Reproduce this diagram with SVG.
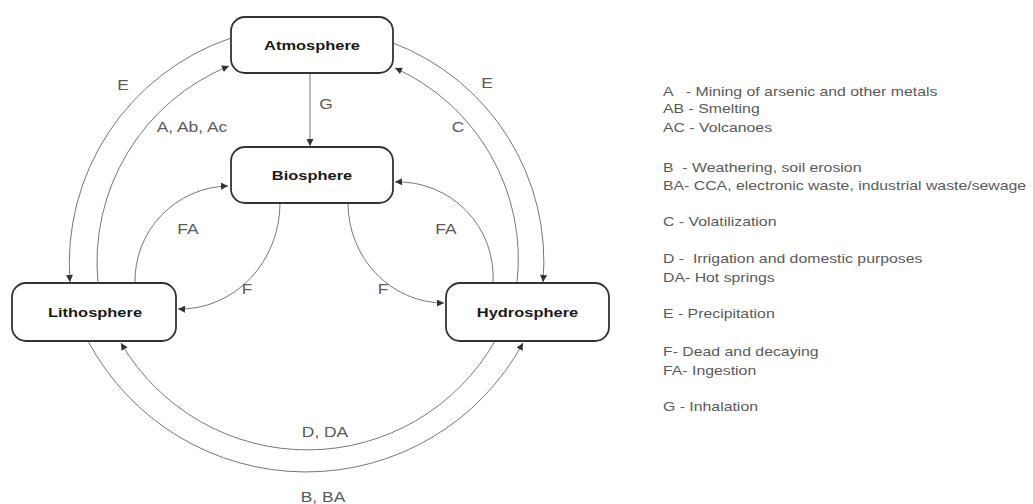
<svg xmlns="http://www.w3.org/2000/svg" width="1033" height="504" viewBox="0 0 1033 504">
<style>
.box{fill:#fff;stroke:#333;stroke-width:1.8}
.nt{font-family:"Liberation Sans",Arial,sans-serif;font-weight:bold;font-size:13.7px;fill:#1a1a1a;text-anchor:middle}
.lb{font-family:"Liberation Sans",Arial,sans-serif;font-size:14.5px;fill:#5a5a5a;text-anchor:middle}
.lg{font-family:"Liberation Sans",Arial,sans-serif;font-size:13.2px;fill:#5a5a5a;white-space:pre}
.cn{fill:none;stroke:#666;stroke-width:0.9}
</style>
<defs>
<marker id="ar" viewBox="0 0 10 10" refX="10" refY="5" markerWidth="8" markerHeight="7" markerUnits="userSpaceOnUse" orient="auto">
<path d="M0,0 L10,5 L0,10 z" fill="#333"/>
</marker>
</defs>
<g id="connectors">
<path class="cn" d="M310,73 L310,146" marker-end="url(#ar)"/>
<path class="cn" d="M231,38 A238,238 0 0 0 70,282" marker-end="url(#ar)"/>
<path class="cn" d="M98,283 A212,212 0 0 1 229,66" marker-end="url(#ar)"/>
<path class="cn" d="M135,283 A95,95 0 0 1 228,186" marker-end="url(#ar)"/>
<path class="cn" d="M280,203 A100,106 0 0 1 178,309" marker-end="url(#ar)"/>
<path class="cn" d="M348,203 A96,100 0 0 0 444,303" marker-end="url(#ar)"/>
<path class="cn" d="M493,283 A95,95 0 0 0 395,182" marker-end="url(#ar)"/>
<path class="cn" d="M517,283 A210,210 0 0 0 395,68" marker-end="url(#ar)"/>
<path class="cn" d="M393,43 A234,234 0 0 1 543,282" marker-end="url(#ar)"/>
<path class="cn" d="M495,341 A216,216 0 0 1 121,343" marker-end="url(#ar)"/>
<path class="cn" d="M88,341 A247,247 0 0 0 523,343" marker-end="url(#ar)"/>
</g>
<g id="labels">
<text class="lb" transform="translate(123,90) scale(1.2,1)">E</text>
<text class="lb" transform="translate(192,132) scale(1.2,1)">A, Ab, Ac</text>
<text class="lb" transform="translate(326,109) scale(1.2,1)">G</text>
<text class="lb" transform="translate(487,88) scale(1.2,1)">E</text>
<text class="lb" transform="translate(458,132) scale(1.2,1)">C</text>
<text class="lb" transform="translate(188,234) scale(1.2,1)">FA</text>
<text class="lb" transform="translate(446,234) scale(1.2,1)">FA</text>
<text class="lb" transform="translate(247,294) scale(1.2,1)">F</text>
<text class="lb" transform="translate(383,294) scale(1.2,1)">F</text>
<text class="lb" transform="translate(325,437) scale(1.2,1)">D, DA</text>
<text class="lb" transform="translate(323,502) scale(1.2,1)">B, BA</text>
</g>
<g id="atmosphere">
<rect class="box" x="231" y="17" width="162" height="56" rx="14"/>
<text class="nt" transform="translate(312,50) scale(1.2,1)">Atmosphere</text>
</g>
<g id="biosphere">
<rect class="box" x="231" y="147" width="162" height="56" rx="14"/>
<text class="nt" transform="translate(312,180) scale(1.2,1)">Biosphere</text>
</g>
<g id="lithosphere">
<rect class="box" x="12" y="283" width="164" height="58" rx="14"/>
<text class="nt" transform="translate(95,317) scale(1.2,1)">Lithosphere</text>
</g>
<g id="hydrosphere">
<rect class="box" x="446" y="283" width="163" height="58" rx="14"/>
<text class="nt" transform="translate(527.5,317) scale(1.2,1)">Hydrosphere</text>
</g>
<g id="legend" transform="translate(663,0) scale(1.2,1)">
<text class="lg" x="0" y="96">A   - Mining of arsenic and other metals</text>
<text class="lg" x="0" y="113.5">AB - Smelting</text>
<text class="lg" x="0" y="132">AC - Volcanoes</text>
<text class="lg" x="0" y="172">B  - Weathering, soil erosion</text>
<text class="lg" x="0" y="190">BA- CCA, electronic waste, industrial waste/sewage</text>
<text class="lg" x="0" y="226">C - Volatilization</text>
<text class="lg" x="0" y="263">D -  Irrigation and domestic purposes</text>
<text class="lg" x="0" y="282">DA- Hot springs</text>
<text class="lg" x="0" y="318">E - Precipitation</text>
<text class="lg" x="0" y="356.5">F- Dead and decaying</text>
<text class="lg" x="0" y="375">FA- Ingestion</text>
<text class="lg" x="0" y="411.5">G - Inhalation</text>
</g>
</svg>
